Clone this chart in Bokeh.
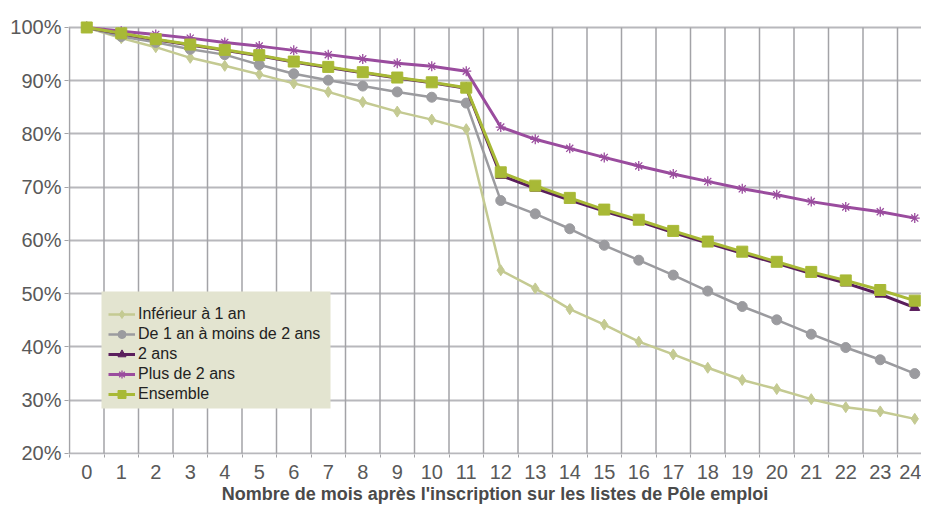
from bokeh.plotting import figure
from bokeh.models import Range1d, FixedTicker, PrintfTickFormatter, Legend, LegendItem, BoxAnnotation
from bokeh.embed import file_html
from bokeh.resources import INLINE

# ---------------- data ----------------
months = list(range(25))
inferieur = [100, 98.0, 96.3, 94.3, 92.8, 91.2, 89.5, 87.9, 86.0, 84.2, 82.7, 80.9,
             54.4, 51.0, 47.1, 44.2, 41.0, 38.6, 36.1, 33.8, 32.1, 30.2, 28.7, 27.9, 26.5]
de1an = [100, 98.3, 97.2, 95.9, 94.9, 93.0, 91.3, 90.1, 89.0, 87.9, 86.9, 85.8,
         67.5, 65.0, 62.2, 59.1, 56.3, 53.5, 50.5, 47.6, 45.1, 42.4, 39.9, 37.6, 35.0]
deux_ans = [100, 98.8, 97.7, 96.7, 95.7, 94.7, 93.5, 92.5, 91.5, 90.5, 89.6, 88.6,
            72.2, 69.8, 67.6, 65.5, 63.6, 61.5, 59.5, 57.6, 55.7, 53.8, 52.0, 49.9, 47.4]
plus2 = [100, 99.3, 98.7, 98.0, 97.2, 96.5, 95.7, 94.9, 94.1, 93.3, 92.7, 91.8,
         81.3, 79.0, 77.3, 75.6, 74.0, 72.5, 71.1, 69.7, 68.6, 67.3, 66.3, 65.4, 64.2]
ensemble = [100, 98.9, 97.8, 96.8, 95.8, 94.8, 93.6, 92.6, 91.6, 90.6, 89.7, 88.7,
            72.8, 70.3, 68.0, 65.8, 63.9, 61.8, 59.8, 57.9, 56.0, 54.1, 52.5, 50.7, 48.7]
y_ticks = [20, 30, 40, 50, 60, 70, 80, 90, 100]
series_names = ["Inférieur à 1 an", "De 1 an à moins de 2 ans", "2 ans", "Plus de 2 ans", "Ensemble"]
x_title = "Nombre de mois après l'inscription sur les listes de Pôle emploi"

# ---------------- styling ----------------
FONT = "Liberation Sans"
GRID_V = "#a3a3a7"
GRID_H = "#b8b8bc"
W, H = 921, 506
BL, BT, BB = 68, 20, 51
cat_w = 34.5
x_start = -0.5 - 1.0 / cat_w
x_end = x_start + (W - BL) / cat_w

p = figure(width=W, height=H, output_backend="svg", toolbar_location=None,
           x_range=Range1d(x_start, x_end), y_range=Range1d(19.81, 101.31),
           min_border_left=BL, min_border_right=0, min_border_top=BT, min_border_bottom=BB)
p.outline_line_color = None
p.background_fill_color = "white"
p.border_fill_color = "white"

# grids
p.xgrid.visible = False
p.ygrid.ticker = FixedTicker(ticks=y_ticks)
p.ygrid.grid_line_color = GRID_H
p.ygrid.grid_line_width = 1.8

bounds = [m - 0.5 for m in months if m - 0.5 <= x_end]
p.segment(x0=bounds, y0=[y_ticks[0]] * len(bounds), x1=bounds, y1=[y_ticks[-1]] * len(bounds),
          line_color=GRID_V, line_width=1.5)

# y axis
p.yaxis.ticker = FixedTicker(ticks=y_ticks)
p.yaxis.formatter = PrintfTickFormatter(format="%d%%")
p.yaxis.axis_line_color = None
p.yaxis.major_tick_line_color = GRID_V
p.yaxis.major_tick_out = 4
p.yaxis.major_tick_in = 0
p.yaxis.minor_tick_line_color = None
p.yaxis.major_label_standoff = 3
p.yaxis.major_label_text_font = FONT
p.yaxis.major_label_text_font_size = "20px"
p.yaxis.major_label_text_color = "#595959"

# x axis
p.xaxis.ticker = FixedTicker(ticks=months, minor_ticks=bounds)
p.xaxis.axis_line_color = None
p.xaxis.major_tick_line_color = None
p.xaxis.major_tick_out = 0
p.xaxis.major_tick_in = 0
p.xaxis.minor_tick_line_color = GRID_V
p.xaxis.minor_tick_out = 3
p.xaxis.minor_tick_in = 0
p.xaxis.major_label_standoff = 7
p.xaxis.major_label_text_font = FONT
p.xaxis.major_label_text_font_size = "20px"
p.xaxis.major_label_text_color = "#595959"
p.xaxis.axis_label = x_title
p.xaxis.axis_label_text_font = FONT
p.xaxis.axis_label_text_font_size = "18px"
p.xaxis.axis_label_text_font_style = "bold"
p.xaxis.axis_label_text_color = "#4a4a4a"
p.xaxis.axis_label_standoff = 2

# series
specs = [
    (inferieur, "#c4ca92", "diamond", 11, 2.5),
    (de1an, "#9b9b9f", "circle", 10, 2.5),
    (deux_ans, "#5a1e5c", "triangle", 10, 3),
    (plus2, "#9a4c9e", "asterisk", 10, 3),
    (ensemble, "#a8b936", "square", 11, 3),
]
items = []
for (vals, col, mk, sz, lw), name in zip(specs, series_names):
    lr = p.line(months, vals, line_color=col, line_width=lw)
    if mk == "asterisk":
        sr = p.scatter(months, vals, marker=mk, size=sz, line_color=col, line_width=1.3)
    else:
        sr = p.scatter(months, vals, marker=mk, size=sz, fill_color=col, line_color=col)
    items.append(LegendItem(label=name, renderers=[lr, sr]))

# legend background panel (screen units, relative to the frame's bottom-left)
panel = BoxAnnotation(left=33, right=262, bottom=46, top=163,
                      left_units="screen", right_units="screen",
                      bottom_units="screen", top_units="screen",
                      fill_color="#e3e4d0", fill_alpha=1, line_color=None)
p.add_layout(panel)

legend = Legend(items=items, location=(40, 50))
legend.background_fill_alpha = 0
legend.border_line_color = None
legend.padding = 0
legend.spacing = 0
legend.margin = 0
legend.glyph_width = 27
legend.glyph_height = 20
legend.label_height = 20
legend.label_standoff = 3
legend.label_text_font = FONT
legend.label_text_font_size = "16px"
legend.label_text_color = "#222222"
p.add_layout(legend)

open("out.html", "w").write(file_html(p, INLINE))
